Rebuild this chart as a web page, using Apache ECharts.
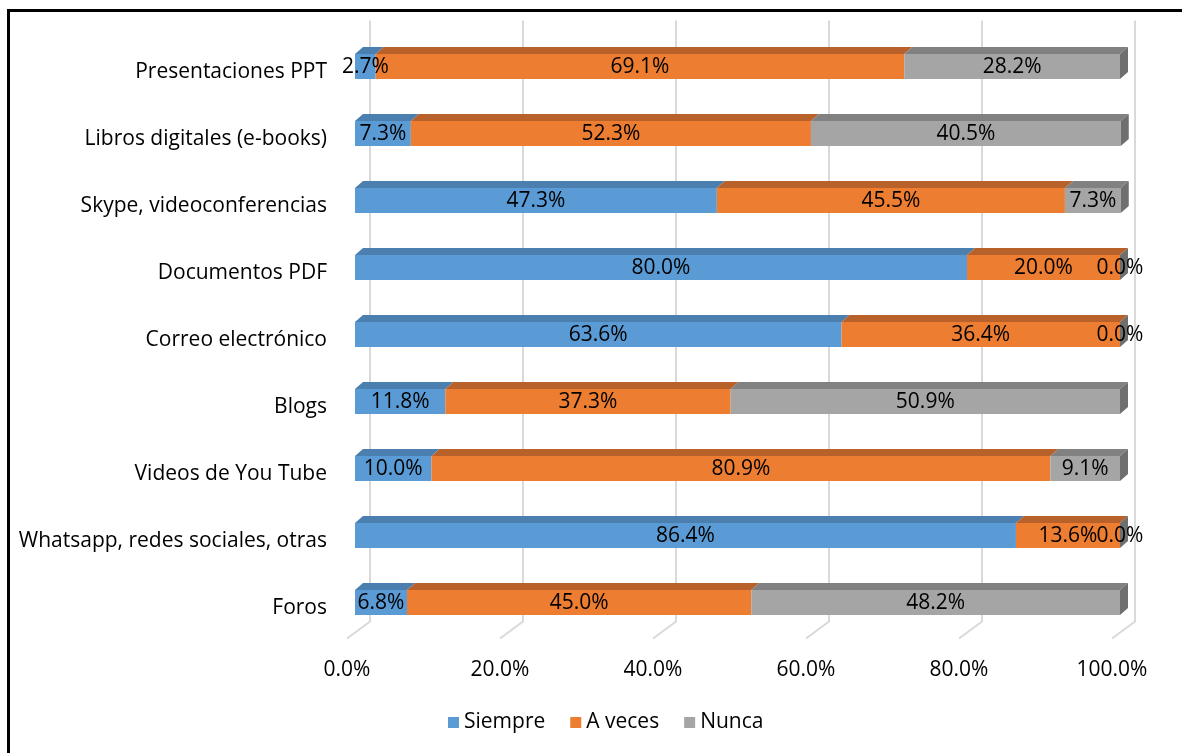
<!DOCTYPE html>
<html>
<head>
<meta charset="utf-8">
<script src="https://cdn.jsdelivr.net/npm/echarts@6/dist/echarts.min.js"></script>
<style>
  html, body { margin: 0; padding: 0; background: #fff; }
  #chart { width: 1182px; height: 753px; }
</style>
</head>
<body>
<div id="chart"></div>
<script>
// categories top to bottom
var categories = [
  'Presentaciones PPT',
  'Libros digitales (e-books)',
  'Skype, videoconferencias',
  'Documentos PDF',
  'Correo electrónico',
  'Blogs',
  'Videos de You Tube',
  'Whatsapp, redes sociales, otras',
  'Foros'
];
var siempre = [2.7, 7.3, 47.3, 80.0, 63.6, 11.8, 10.0, 86.4, 6.8];
var aVeces = [69.1, 52.3, 45.5, 20.0, 36.4, 37.3, 80.9, 13.6, 45.0];
var nunca = [28.2, 40.5, 7.3, 0.0, 0.0, 50.9, 9.1, 0.0, 48.2];
var xTicks = [0, 20, 40, 60, 80, 100];

var FONT = '"Open Sans", sans-serif';
var FS = 21;
var DX = 8, DY = 7;

function makeSeg(name, vals, prev, color, topColor, last) {
  return {
    type: 'custom',
    name: name,
    z: 2,
    itemStyle: { color: color },
    data: vals.map(function (v, i) {
      var s = 0;
      prev.forEach(function (arr) { s += arr[i]; });
      return [i, s, v];
    }),
    encode: { y: 0, x: 1 },
    renderItem: function (params, api) {
      var i = api.value(0), s = api.value(1), v = api.value(2);
      var p0 = api.coord([s, i]);
      var p1 = api.coord([s + v, i]);
      var y0 = p0[1] - 12, h = 25;
      var w = p1[0] - p0[0];
      var kids = [];
      if (w > 0) {
        kids.push({
          type: 'rect',
          shape: { x: p0[0], y: y0, width: w, height: h },
          style: { fill: color }
        });
        kids.push({
          type: 'polygon',
          shape: { points: [[p0[0], y0], [p0[0] + DX, y0 - DY], [p1[0] + DX, y0 - DY], [p1[0], y0]] },
          style: { fill: topColor }
        });
      }
      if (last) {
        kids.push({
          type: 'polygon',
          shape: { points: [[p1[0], y0], [p1[0] + DX, y0 - DY], [p1[0] + DX, y0 + h - DY], [p1[0], y0 + h]] },
          style: { fill: '#6f6f6f' }
        });
      }
      kids.push({
        type: 'text',
        z2: 100,
        style: {
          text: v.toFixed(1) + '%',
          x: (p0[0] + p1[0]) / 2,
          y: p0[1] + 1,
          align: 'center',
          verticalAlign: 'middle',
          fill: '#000',
          fontSize: FS,
          fontFamily: FONT
        }
      });
      return { type: 'group', children: kids };
    }
  };
}

var chart = echarts.init(document.getElementById('chart'));
chart.setOption({
  animation: false,
  graphic: [{
    type: 'rect',
    shape: { x: 8.5, y: 10.5, width: 1300, height: 900 },
    style: { fill: 'none', stroke: '#000', lineWidth: 3 },
    silent: true
  }],
  legend: {
    top: 707,
    left: 443,
    icon: 'rect',
    itemWidth: 11,
    itemHeight: 11,
    itemGap: 25,
    textStyle: { fontSize: FS, color: '#000', fontFamily: FONT },
    data: ['Siempre', 'A veces', 'Nunca']
  },
  grid: { left: 355, right: 62, top: 32.5, height: 603 },
  xAxis: {
    type: 'value',
    min: 0,
    max: 100,
    interval: 20,
    axisLine: { show: false },
    axisTick: { show: false },
    splitLine: { show: false },
    axisLabel: {
      margin: 24,
      padding: [0, 16, 0, 0],
      fontSize: FS,
      color: '#000',
      fontFamily: FONT,
      formatter: function (v) { return v.toFixed(1) + '%'; }
    }
  },
  yAxis: {
    type: 'category',
    inverse: true,
    data: categories,
    axisLine: { show: false },
    axisTick: { show: false },
    axisLabel: {
      margin: 28,
      verticalAlign: 'top',
      lineHeight: 12,
      fontSize: FS,
      color: '#000',
      fontFamily: FONT
    }
  },
  series: [
    {
      type: 'custom',
      name: 'grid',
      z: 1,
      silent: true,
      data: xTicks,
      renderItem: function (params, api) {
        var cs = params.coordSys;
        var x = api.coord([api.value(0), 0])[0];
        var bottom = cs.y + cs.height;
        return {
          type: 'polyline',
          shape: { points: [[x + 15, cs.y - 12], [x + 15, bottom - 14], [x - 8, bottom + 3]] },
          style: { stroke: '#d9d9d9', lineWidth: 2, fill: 'none' }
        };
      }
    },
    makeSeg('Siempre', siempre, [], '#5b9bd5', '#4a7fb0', false),
    makeSeg('A veces', aVeces, [siempre], '#ed7d31', '#b9612a', false),
    makeSeg('Nunca', nunca, [siempre, aVeces], '#a5a5a5', '#818181', true)
  ]
});
</script>
</body>
</html>
